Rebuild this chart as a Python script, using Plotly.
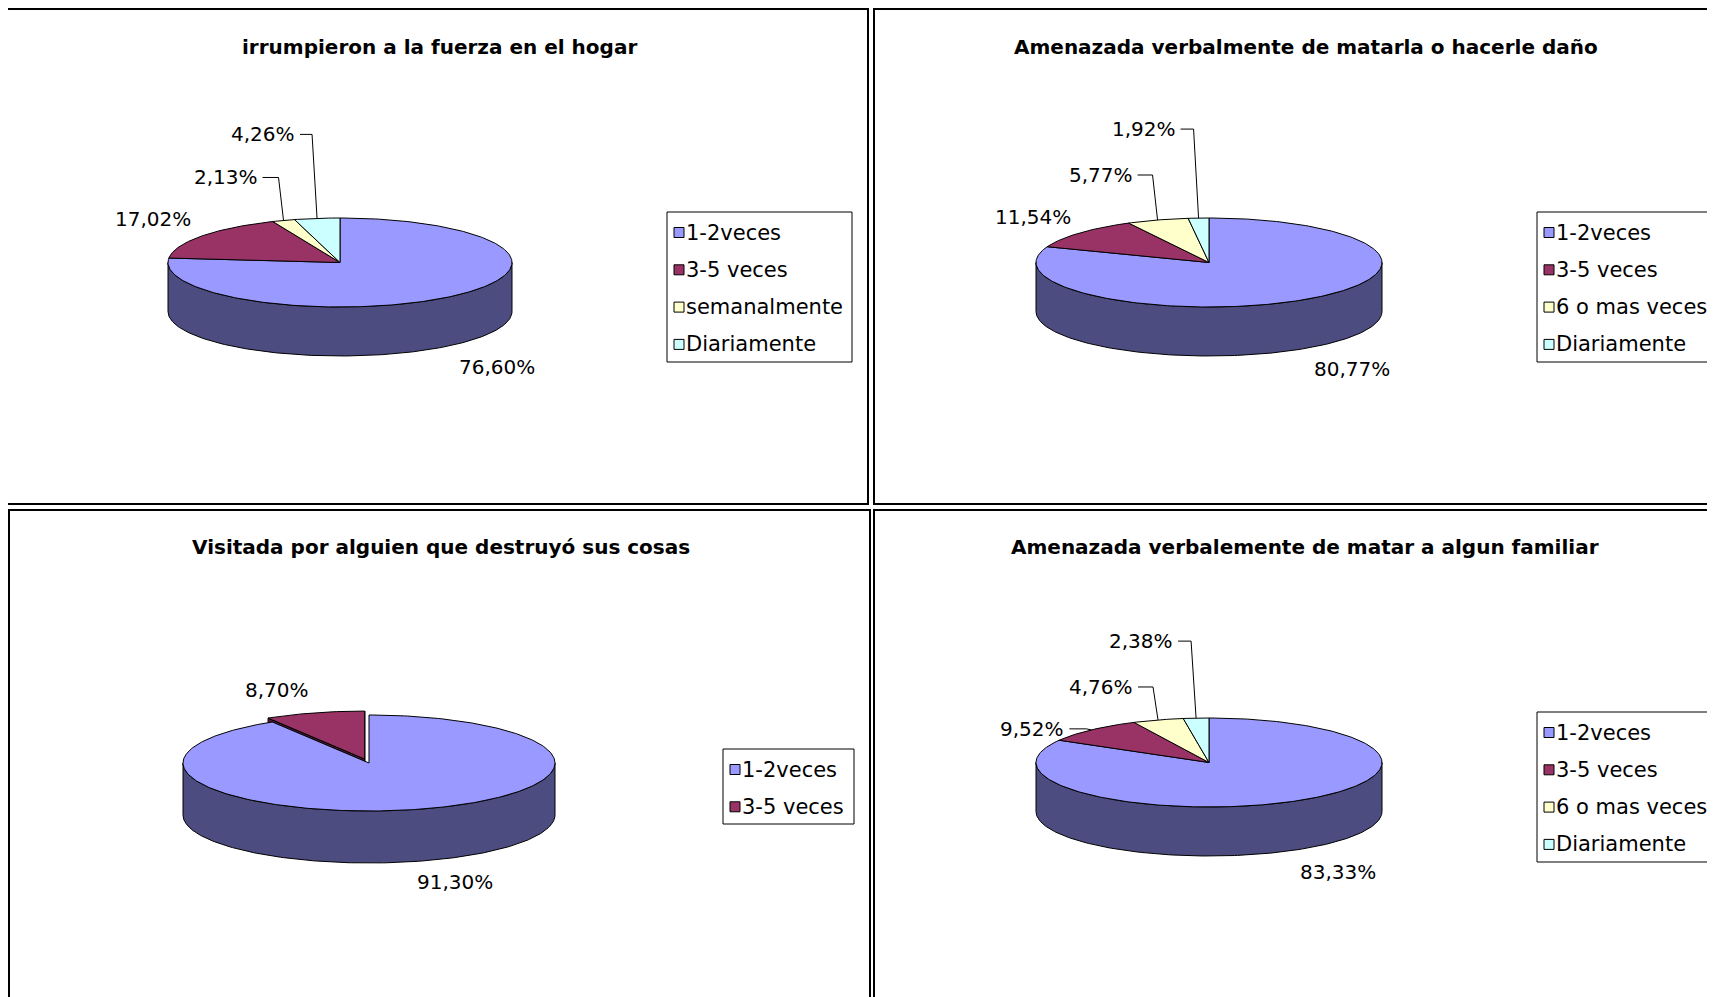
import numpy as np
import plotly.graph_objects as go

W, H = 1715, 997
PAGE_MARGIN = 8  # default body margin of the html page
FONT = "DejaVu Sans"

# ---------------- data ----------------
titles = [
    "irrumpieron a la fuerza en el hogar",
    "Amenazada verbalmente de matarla o hacerle daño",
    "Visitada por alguien que destruyó sus cosas",
    "Amenazada verbalemente de matar a algun familiar",
]
categories_1 = ["1-2veces", "3-5 veces", "semanalmente", "Diariamente"]
values_1 = [76.60, 17.02, 2.13, 4.26]
categories_2 = ["1-2veces", "3-5 veces", "6 o mas veces", "Diariamente"]
values_2 = [80.77, 11.54, 5.77, 1.92]
categories_3 = ["1-2veces", "3-5 veces"]
values_3 = [91.30, 8.70]
categories_4 = ["1-2veces", "3-5 veces", "6 o mas veces", "Diariamente"]
values_4 = [83.33, 9.52, 4.76, 2.38]

top_colors = ["#9999FF", "#993366", "#FFFFCC", "#CCFFFF"]
side_colors = ["#4C4C80", "#4D1A33", "#808066", "#668080"]

# ---------------- layout (pixel space) ----------------
charts = [
    dict(title=titles[0], cats=categories_1, vals=values_1,
         panel=(7, 9, 868, 504), title_xy=(439, 47),
         pie=dict(cx=340, cy=262.5, a=172, b=44.5, depth=49), explode=[0, 0, 0, 0],
         labels=[(42, 71, False), (-49, -17, False), (-24, -43, True), (-20, -84, True)],
         legend=(667, 212, 852, 362)),
    dict(title=titles[1], cats=categories_2, vals=values_2,
         panel=(874, 9, 1730, 504), title_xy=(1306, 47),
         pie=dict(cx=1209, cy=262.5, a=173, b=44.5, depth=49), explode=[0, 0, 0, 0],
         labels=[(45, 70, False), (-47, -16, False), (-23, -45, True), (-21, -89, True)],
         legend=(1537, 212, 1730, 362)),
    dict(title=titles[2], cats=categories_3, vals=values_3,
         panel=(9, 510, 870, 1010), title_xy=(441, 547),
         pie=dict(cx=369, cy=763, a=186, b=48, depth=52), explode=[0, 0.085],
         labels=[(36, 73, False), (-38, -23, False)],
         legend=(723, 749, 854, 824)),
    dict(title=titles[3], cats=categories_4, vals=values_4,
         panel=(874, 510, 1730, 1010), title_xy=(1305, 547),
         pie=dict(cx=1209, cy=762.5, a=173, b=44.5, depth=49), explode=[0, 0, 0, 0],
         labels=[(43, 71, False), (-25, -1, True), (-23, -33, True), (-21, -77, True)],
         legend=(1537, 712, 1730, 862)),
]

fig = go.Figure()
annotations = []
shapes = []


def rim(p, t, off):
    r = np.radians(t)
    return (p["cx"] + off[0] + p["a"] * np.sin(r),
            p["cy"] + off[1] - p["b"] * np.cos(r))


def arc(p, t0, t1, off, dy=0.0):
    n = max(2, int(abs(t1 - t0)) + 2)
    ts = np.linspace(t0, t1, n)
    xs, ys = rim(p, ts, off)
    return list(xs), list(ys + dy)


def poly(xs, ys, fill):
    fig.add_trace(go.Scatter(x=xs + [xs[0]], y=ys + [ys[0]], mode="lines", fill="toself",
                             fillcolor=fill, line=dict(color="black", width=1),
                             hoverinfo="skip", showlegend=False))


def fmt(v):
    return f"{v:.2f}".replace(".", ",") + "%"


for ch in charts:
    p = ch["pie"]
    vals = ch["vals"]
    total = sum(vals)
    bounds = np.concatenate([[0], np.cumsum(vals) / total * 360.0])
    offs = []
    for i in range(len(vals)):
        t0, t1 = bounds[i], bounds[i + 1]
        m = np.radians((t0 + t1) / 2)
        k = ch["explode"][i]
        offs.append((k * p["a"] * np.sin(m), -k * p["b"] * np.cos(m)))

    # radial walls of exploded slices
    for i in range(len(vals)):
        if ch["explode"][i] > 0:
            for t in (bounds[i], bounds[i + 1]):
                ox, oy = offs[i]
                rx, ry = rim(p, t, offs[i])
                cx, cy = p["cx"] + ox, p["cy"] + oy
                poly([cx, rx, rx, cx], [cy, ry, ry + p["depth"], cy + p["depth"]], side_colors[i])

    # outer side walls (front half only)
    for i in range(len(vals)):
        s0, s1 = max(bounds[i], 90.0), min(bounds[i + 1], 270.0)
        if s1 > s0:
            xt, yt = arc(p, s0, s1, offs[i])
            xb, yb = arc(p, s1, s0, offs[i], p["depth"])
            poly(xt + xb, yt + yb, side_colors[i])

    # top faces
    for i in range(len(vals)):
        ox, oy = offs[i]
        xa, ya = arc(p, bounds[i], bounds[i + 1], offs[i])
        poly([p["cx"] + ox] + xa, [p["cy"] + oy] + ya, top_colors[i])

    # data labels
    for i, (dx, dy, leader) in enumerate(ch["labels"]):
        tm = (bounds[i] + bounds[i + 1]) / 2
        rx, ry = rim(p, tm, offs[i])
        lx, ly = rx + dx, ry + dy
        if leader:
            cxn = rx - 5
            fig.add_trace(go.Scatter(x=[lx + 3, cxn, rx], y=[ly, ly, ry], mode="lines",
                                     line=dict(color="black", width=1),
                                     hoverinfo="skip", showlegend=False))
            annotations.append(dict(x=lx, y=ly, xref="x", yref="y", text=fmt(vals[i]),
                                    showarrow=False, xanchor="right", yanchor="middle",
                                    font=dict(family=FONT, size=20, color="black")))
        else:
            annotations.append(dict(x=lx, y=ly, xref="x", yref="y", text=fmt(vals[i]),
                                    showarrow=False, xanchor="center", yanchor="middle",
                                    font=dict(family=FONT, size=20, color="black")))

    # panel border
    x0, y0, x1, y1 = ch["panel"]
    shapes.append(dict(type="rect", xref="x", yref="y", x0=x0, y0=y0, x1=x1, y1=y1,
                       line=dict(color="black", width=2), fillcolor="rgba(0,0,0,0)", layer="below"))

    # title
    tx, ty = ch["title_xy"]
    annotations.append(dict(x=tx, y=ty, xref="x", yref="y", text="<b>" + ch["title"] + "</b>",
                            showarrow=False, xanchor="center", yanchor="middle",
                            font=dict(family=FONT, size=20, color="black")))

    # legend
    lx0, ly0, lx1, ly1 = ch["legend"]
    shapes.append(dict(type="rect", xref="x", yref="y", x0=lx0, y0=ly0, x1=lx1, y1=ly1,
                       line=dict(color="black", width=1), fillcolor="white", layer="below"))
    n = len(ch["cats"])
    ys = [ly0 + 20.5 + 37.3 * j for j in range(n)]
    fig.add_trace(go.Scatter(x=[lx0 + 12] * n, y=ys, mode="markers",
                             marker=dict(symbol="square", size=10, color=top_colors[:n],
                                         line=dict(color="black", width=1)),
                             hoverinfo="skip", showlegend=False))
    for j, c in enumerate(ch["cats"]):
        annotations.append(dict(x=lx0 + 17, y=ys[j], xref="x", yref="y", text=c,
                                showarrow=False, xanchor="left", yanchor="middle",
                                font=dict(family=FONT, size=21, color="black")))

fig.update_layout(
    width=W - PAGE_MARGIN, height=H - PAGE_MARGIN,
    margin=dict(l=0, r=0, t=0, b=0),
    paper_bgcolor="white", plot_bgcolor="white",
    xaxis=dict(range=[PAGE_MARGIN, W], visible=False, fixedrange=True),
    yaxis=dict(range=[H, PAGE_MARGIN], visible=False, fixedrange=True),
    shapes=shapes, annotations=annotations, showlegend=False,
)

fig.write_html("out.html")
